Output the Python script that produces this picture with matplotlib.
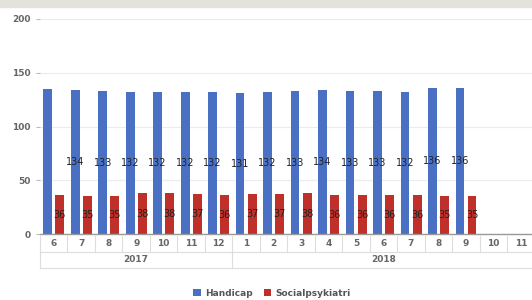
import matplotlib
matplotlib.use("Agg")
import matplotlib.pyplot as plt
import matplotlib.transforms as mtransforms
from matplotlib.patches import Rectangle
import numpy as np

months = ["6", "7", "8", "9", "10", "11", "12", "1", "2", "3", "4", "5", "6", "7", "8", "9", "10", "11"]
years = [("2017", 0, 6), ("2018", 7, 17)]
handicap = [135, 134, 133, 132, 132, 132, 132, 131, 132, 133, 134, 133, 133, 132, 136, 136]
socialpsyk = [36, 35, 35, 38, 38, 37, 36, 37, 37, 38, 36, 36, 36, 36, 35, 35]
yticks = [0, 50, 100, 150, 200]

blue = "#4a70c4"
red = "#c0302a"

fig = plt.figure(figsize=(5.32, 3.0), dpi=100)
fig.patches.append(Rectangle((0, 1 - 7 / 300), 1, 7 / 300, transform=fig.transFigure,
                             color="#e3e3dc", zorder=0))
ax = fig.add_axes([40 / 532, 66 / 300, 1 - 40 / 532, 215 / 300])

x = np.arange(len(handicap))
w = 0.32
off = 0.22
bb = ax.bar(x - off, handicap, w, color=blue, zorder=2)
rb = ax.bar(x + off, socialpsyk, w, color=red, zorder=2)

blabels = [""] + [str(v) for v in handicap[1:]]
ax.bar_label(bb, labels=blabels, label_type="center", fontsize=7, color="#222222", zorder=3)
ax.bar_label(rb, labels=[str(v) for v in socialpsyk], label_type="center", fontsize=7,
             color="#222222", zorder=3)

ax.set_xlim(-0.5, 17.4)
ax.set_ylim(0, 200)
ax.set_yticks(yticks)
ax.set_yticklabels([str(t) for t in yticks], fontsize=6.5, color="#666666", fontweight="bold")
ax.tick_params(axis="y", length=3, color="#bbbbbb", pad=4)
ax.set_xticks([])
for s in ["top", "right", "left"]:
    ax.spines[s].set_visible(False)
ax.spines["bottom"].set_color("#999999")
ax.spines["bottom"].set_linewidth(1.0)
ax.yaxis.grid(True, color="#ececec", linewidth=0.8, zorder=0)
ax.set_axisbelow(True)

trans = mtransforms.blended_transform_factory(ax.transData, ax.transAxes)
lc = "#dddddd"
r1_top, r1_bot, r2_bot = -0.008, -0.083, -0.158
# tick row
for i, m in enumerate(months):
    ax.text(i, (r1_top + r1_bot) / 2, m, transform=trans, ha="center", va="center",
            fontsize=6.5, color="#666666", fontweight="bold")
for b in np.arange(-0.5, len(months) + 0.5, 1.0):
    ax.plot([b, b], [r1_top, r1_bot], transform=trans, color=lc, lw=0.8, clip_on=False)
ax.plot([-0.5, 18], [r1_bot, r1_bot], transform=trans, color=lc, lw=0.8, clip_on=False)
# year row
for name, a, b in years:
    ax.text((a + b) / 2 if name == "2017" else (a + 16) / 2 + 0.5, (r1_bot + r2_bot) / 2, name,
            transform=trans, ha="center", va="center", fontsize=6.5, color="#666666",
            fontweight="bold")
    ax.plot([a - 0.5, a - 0.5], [r1_bot, r2_bot], transform=trans, color=lc, lw=0.8, clip_on=False)
ax.plot([-0.5, 18], [r2_bot, r2_bot], transform=trans, color=lc, lw=0.8, clip_on=False)

leg = fig.legend([bb, rb], ["Handicap", "Socialpsykiatri"], loc="center",
                 bbox_to_anchor=(272 / 532, 1 - 293 / 300), ncol=2, frameon=False,
                 fontsize=6.5, handlelength=0.8, handleheight=0.8, handletextpad=0.5,
                 columnspacing=1.2)
for t in leg.get_texts():
    t.set_color("#555555")
    t.set_fontweight("bold")

fig.savefig("out.png", dpi=100)
